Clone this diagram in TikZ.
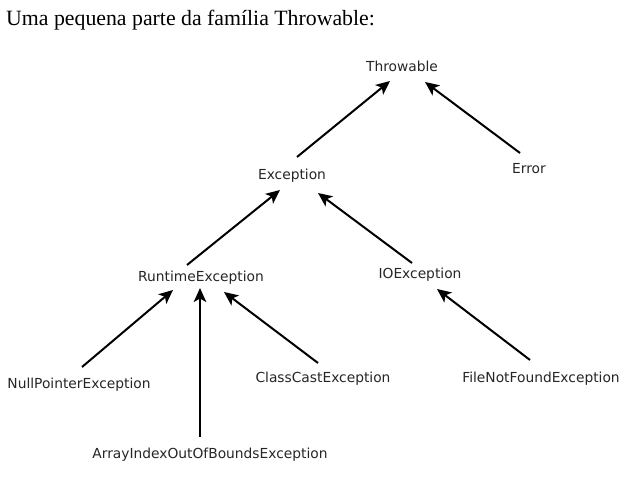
\documentclass[tikz,border=0pt]{standalone}
\usepackage{fontspec}
\setmainfont{Liberation Serif}
\newfontfamily\lblfont{DejaVu Sans}
\usetikzlibrary{arrows.meta}
\begin{document}
\begin{tikzpicture}[x=1pt,y=-1pt,
  lbl/.style={font=\lblfont\fontsize{13.8}{16}\selectfont, inner sep=0pt, anchor=base, text=black!85},
  arr/.style={line width=2pt, -{Stealth[length=14pt,width=12.5pt,inset=3.5pt]}}]
\useasboundingbox[fill=white] (0,0) rectangle (634,478);
\node[anchor=base west, inner sep=0pt, font=\fontsize{21.8}{26}\selectfont] (title) at (6,26) {Uma pequena parte da família Throwable:};
\node[lbl] (thr) at (402,72) {Throwable};
\node[lbl] (err) at (529,174) {Error};
\node[lbl] (exc) at (292,180) {Exception};
\node[lbl] (rte) at (201,281) {RuntimeException};
\node[lbl] (ioe) at (420,278) {IOException};
\node[lbl] (npe) at (79,388) {NullPointerException};
\node[lbl] (aio) at (210,458) {ArrayIndexOutOfBoundsException};
\node[lbl] (cce) at (323,382) {ClassCastException};
\node[lbl] (fnf) at (541,382) {FileNotFoundException};
\draw[arr] ([shift={(5,-23)}]exc.base) -- ([shift={(-12,9)}]thr.base);
\draw[arr] ([shift={(-9,-21)}]err.base) -- ([shift={(23,10)}]thr.base);
\draw[arr] ([shift={(-14,-16)}]rte.base) -- ([shift={(-12,10)}]exc.base);
\draw[arr] ([shift={(-8,-15)}]ioe.base) -- ([shift={(26,13)}]exc.base);
\draw[arr] ([shift={(3,-21)}]npe.base) -- ([shift={(-28,9)}]rte.base);
\draw[arr] ([shift={(-10,-21)}]aio.base) -- ([shift={(-1,7)}]rte.base);
\draw[arr] ([shift={(-5,-19)}]cce.base) -- ([shift={(23,11)}]rte.base);
\draw[arr] ([shift={(-11,-22)}]fnf.base) -- ([shift={(17,11)}]ioe.base);
\end{tikzpicture}
\end{document}
